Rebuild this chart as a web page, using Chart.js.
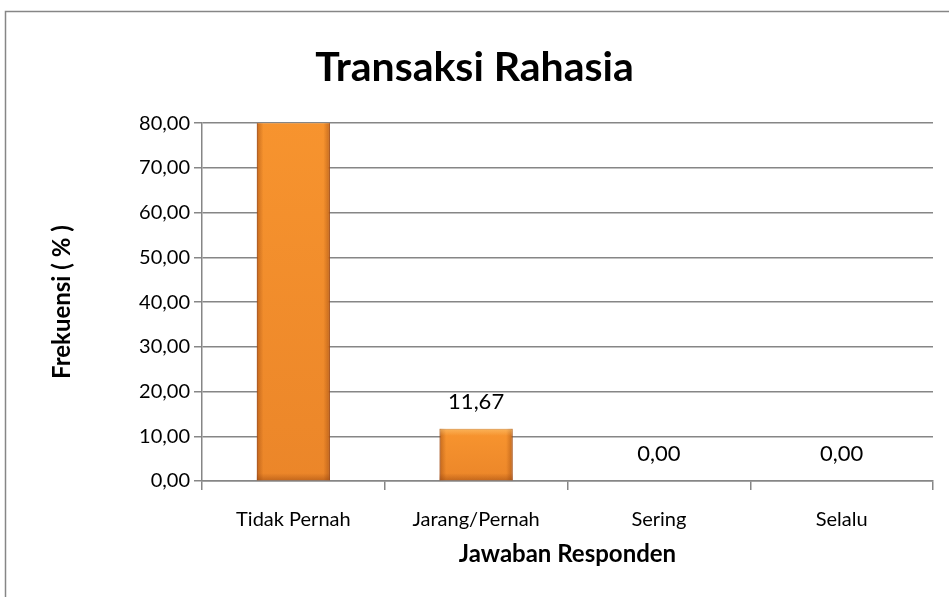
<!DOCTYPE html>
<html>
<head>
<meta charset="utf-8">
<script src="https://cdn.jsdelivr.net/npm/chart.js@4"></script>
<style>
  html, body { margin: 0; padding: 0; background: #fff; }
  #wrap { width: 949px; height: 597px; }
</style>
</head>
<body>
<div id="wrap"><canvas id="barChart" width="949" height="597"></canvas></div>
<script>
// chart data
const categories = ["Tidak Pernah", "Jarang/Pernah", "Sering", "Selalu"];
const frekuensi = [88.33, 11.67, 0.00, 0.00];
const yTicks = [0, 10, 20, 30, 40, 50, 60, 70, 80];

const fmt = (v) => Number(v).toFixed(2).replace(".", ",");
const FONT = "Lato, 'Open Sans', sans-serif";

// outer frame of the chart object
const framePlugin = {
  id: "frame",
  beforeDraw(chart) {
    const c = chart.ctx;
    c.save();
    c.fillStyle = "#fff";
    c.fillRect(0, 0, chart.width, chart.height);
    c.strokeStyle = "#868686";
    c.lineWidth = 1.5;
    c.strokeRect(5.5, 11.5, chart.width + 20, chart.height + 20);
    c.restore();
  },
};

// bevel shading on the bars + value labels
const barExtras = {
  id: "barExtras",
  afterDatasetsDraw(chart) {
    const c = chart.ctx;
    const area = chart.chartArea;
    const meta = chart.getDatasetMeta(0);
    const yMax = chart.scales.y.max;
    c.save();
    c.beginPath();
    c.rect(area.left, area.top, area.right - area.left, area.bottom - area.top);
    c.clip();
    meta.data.forEach((bar) => {
      const p = bar.getProps(["x", "y", "base", "width"], true);
      const l = p.x - p.width / 2;
      const fullH = p.base - p.y;
      if (fullH <= 0) return;
      // darker towards the bottom of the bar
      const gd = c.createLinearGradient(0, p.y, 0, p.base);
      gd.addColorStop(0, "rgba(190,80,20,0)");
      gd.addColorStop(1, "rgba(190,80,20,0.22)");
      c.fillStyle = gd;
      c.fillRect(l, p.y, p.width, fullH);
      // side bevels
      const g = c.createLinearGradient(l, 0, l + p.width, 0);
      g.addColorStop(0, "rgba(140,60,10,0.45)");
      g.addColorStop(0.09, "rgba(140,60,10,0.0)");
      g.addColorStop(0.91, "rgba(140,60,10,0.0)");
      g.addColorStop(1, "rgba(140,60,10,0.45)");
      c.fillStyle = g;
      c.fillRect(l, p.y, p.width, fullH);
      // top highlight / bottom shadow
      const gv = c.createLinearGradient(0, p.y, 0, p.base);
      gv.addColorStop(0, "rgba(255,215,140,0.45)");
      gv.addColorStop(Math.min(0.2, 7 / fullH), "rgba(255,215,140,0)");
      gv.addColorStop(Math.max(0.8, 1 - 7 / fullH), "rgba(140,60,10,0)");
      gv.addColorStop(1, "rgba(140,60,10,0.4)");
      c.fillStyle = gv;
      c.fillRect(l, p.y, p.width, fullH);
    });
    c.restore();

    c.save();
    c.fillStyle = "#000";
    c.font = "22px " + FONT;
    c.textAlign = "center";
    c.textBaseline = "middle";
    meta.data.forEach((bar, i) => {
      const v = frekuensi[i];
      if (v > yMax) return;
      c.fillText(fmt(v), bar.x, bar.y - 27);
    });
    c.restore();
  },
};

const ctx = document.getElementById("barChart").getContext("2d");

new Chart(ctx, {
  type: "bar",
  data: {
    labels: categories,
    datasets: [
      {
        data: frekuensi,
        backgroundColor: "#F8952F",
        borderColor: "#B95C18",
        borderWidth: 1,
        barPercentage: 0.4,
        categoryPercentage: 1.0,
      },
    ],
  },
  options: {
    responsive: false,
    animation: false,
    layout: { padding: { left: 16, right: 16, top: 40, bottom: 25 } },
    plugins: {
      legend: { display: false },
      tooltip: { enabled: false },
      title: {
        display: true,
        text: "Transaksi Rahasia",
        color: "#000",
        font: { family: FONT, size: 41, weight: "bold", lineHeight: 1.2 },
        padding: { top: 3, bottom: 31 },
      },
    },
    scales: {
      y: {
        min: 0,
        max: 80,
        afterBuildTicks(axis) {
          axis.ticks = yTicks.map((v) => ({ value: v }));
        },
        afterFit(axis) {
          axis.width = 186;
        },
        ticks: {
          color: "#000",
          font: { family: FONT, size: 20 },
          padding: 4,
          callback: (v) => fmt(v),
        },
        grid: {
          color: "#868686",
          lineWidth: 1.5,
          tickLength: 8,
        },
        border: { color: "#868686", width: 1.5 },
        title: {
          display: true,
          text: "Frekuensi ( % )",
          color: "#000",
          font: { family: FONT, size: 24, weight: "bold", lineHeight: 1.2 },
          padding: { top: 32, bottom: 0 },
        },
      },
      x: {
        afterFit(axis) {
          axis.height = 91;
        },
        ticks: {
          color: "#000",
          font: { family: FONT, size: 20 },
          padding: 18,
        },
        grid: {
          drawOnChartArea: false,
          color: "#868686",
          lineWidth: 1.5,
          tickLength: 9,
          offset: true,
        },
        border: { color: "#868686", width: 1.5 },
        title: {
          display: true,
          text: "Jawaban Responden",
          color: "#000",
          font: { family: FONT, size: 24, weight: "bold", lineHeight: 1.2 },
          padding: { top: 0, bottom: 3 },
        },
      },
    },
  },
  plugins: [framePlugin, barExtras],
});
</script>
</body>
</html>
